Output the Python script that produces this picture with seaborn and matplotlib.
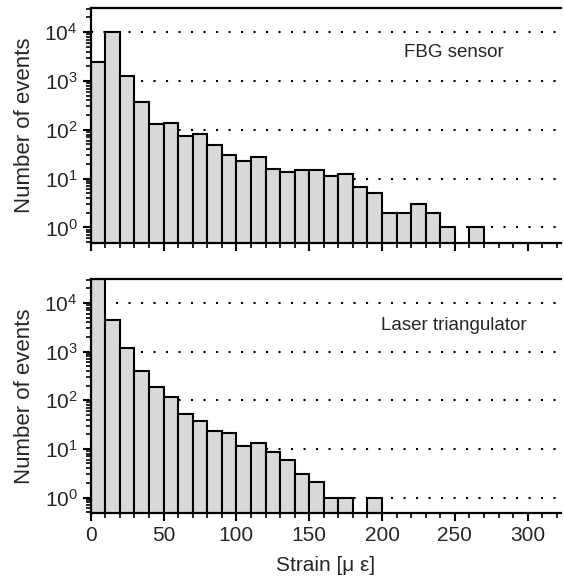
import numpy as np
import pandas as pd
import matplotlib
matplotlib.use("Agg")
import matplotlib.pyplot as plt
from matplotlib.ticker import LogLocator, MultipleLocator, NullFormatter
import seaborn as sns

# Bin left edges (strain, micro-epsilon), bin width 10
bin_left = list(range(0, 270, 10))
fbg_counts = [2450, 10000, 1260, 370, 130, 135, 73, 83, 48, 30, 23, 27.5, 15.5, 13.5,
              14.8, 14.8, 11.5, 12.6, 6.8, 5, 2, 2, 3, 2, 1, 0, 1]
laser_counts = [31000, 4400, 1200, 400, 190, 115, 52, 37.5, 23.3, 21, 11.5, 13.3, 8.7, 5.8,
                3.1, 2.05, 1, 1, 0, 1, 0, 0, 0, 0, 0, 0, 0]
panel_labels = ["FBG sensor", "Laser triangulator"]
xticks = [0, 50, 100, 150, 200, 250, 300]

sns.set_theme(style="white")
plt.rcParams['font.family'] = ['Liberation Sans', 'DejaVu Sans']

fig = plt.figure(figsize=(5.64, 5.80), dpi=100)
ax1 = fig.add_axes([0.161, 0.581, 0.834, 0.405])
ax2 = fig.add_axes([0.161, 0.1155, 0.834, 0.4035])

for ax, counts, label in [(ax1, fbg_counts, panel_labels[0]), (ax2, laser_counts, panel_labels[1])]:
    df = pd.DataFrame({"strain": np.array(bin_left) + 5.0, "count": counts})
    df = df[df["count"] > 0]
    ax.set_yscale("log")
    for d in range(0, 5):
        ax.axhline(10 ** d, color="black", linestyle=(0, (1, 5)), linewidth=1.5, zorder=0)
    sns.histplot(data=df, x="strain", weights="count", binwidth=10, binrange=(0, 270), ax=ax,
                 color="#d9d9d9", edgecolor="black", linewidth=1.5, alpha=1, zorder=2)
    ax.set_xlim(0, 323)
    ax.set_ylim(0.48, 3.1e4)
    ax.set_ylabel("Number of events", fontsize=16, labelpad=7)
    ax.set_xlabel("")
    ax.yaxis.set_major_locator(LogLocator(base=10, numticks=10))
    ax.yaxis.set_minor_locator(LogLocator(base=10, subs=np.arange(2, 10), numticks=20))
    ax.yaxis.set_minor_formatter(NullFormatter())
    ax.set_xticks(xticks)
    ax.xaxis.set_minor_locator(MultipleLocator(10))
    ax.tick_params(axis="both", which="major", direction="out", length=6, width=1.5,
                   labelsize=15, left=True, bottom=True, color="black")
    ax.tick_params(axis="both", which="minor", direction="out", length=3.5, width=1.2,
                   left=True, bottom=True, color="black")
    for s in ["left", "bottom", "top"]:
        ax.spines[s].set_visible(True)
        ax.spines[s].set_color("black")
        ax.spines[s].set_linewidth(1.6)
    ax.spines["right"].set_visible(False)
    ax.grid(False)

ax1.text(0.772, 0.81, panel_labels[0], transform=ax1.transAxes, ha="center", va="center", fontsize=13.5)
ax2.text(0.772, 0.80, panel_labels[1], transform=ax2.transAxes, ha="center", va="center", fontsize=13.5)
ax1.tick_params(axis="x", labelbottom=False)
ax2.set_xlabel("Strain [μ ε]", fontsize=15, labelpad=8)

fig.savefig("out.png", dpi=100)
